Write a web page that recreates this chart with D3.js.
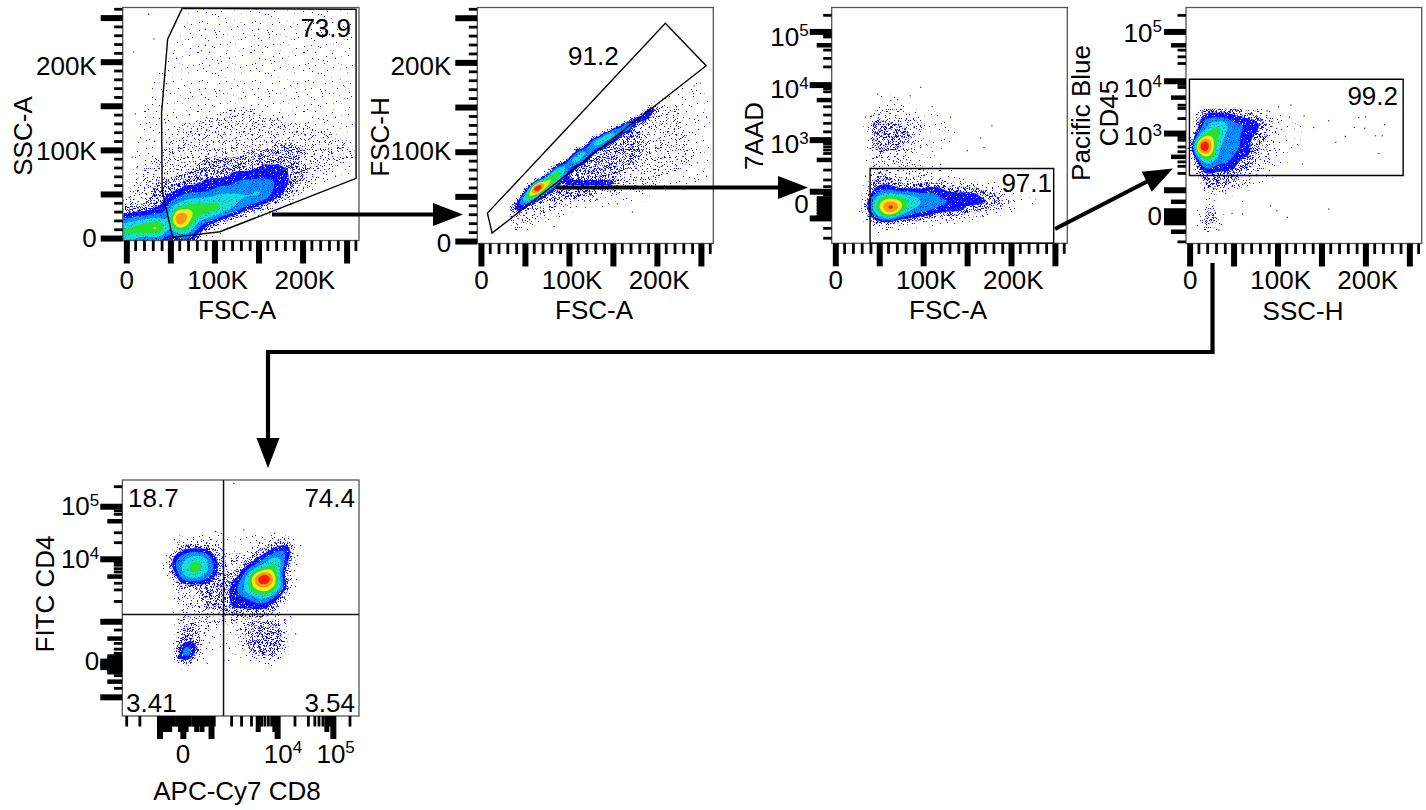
<!DOCTYPE html>
<html>
<head>
<meta charset="utf-8">
<script src="https://cdn.jsdelivr.net/npm/d3@7"></script>
<style>
  body { margin: 0; background: #fff; }
  text { font-family: "Liberation Sans", Arial, sans-serif; fill: #000; }
</style>
</head>
<body>
<div id="chart"></div>
<script>
// Linear axes are in thousands, biexponential axes in display channels (0-1024)
const linMajor = [0, 50, 100, 150, 200, 250];
const linMinor = [10, 20, 30, 40, 60, 70, 80, 90, 110, 120, 130, 140, 160, 170, 180, 190, 210, 220, 230, 240, 260];
const linXLabelVals = [0, 103, 202];
const linLabels = ["0", "100K", "200K"];
const p1YLabelVals = [0, 99, 195];
const p2YLabelVals = [-2, 101, 196];

const p3YMajor = [918, 687, 448, 224, 108];
const p3YMedium = [860, 622, 362, 195, 166, 137, 180, 152, 122];
const p3YMinor = [990, 896, 905, 839, 803, 766, 672, 658, 593, 557, 521, 484, 433, 419, 405, 390, 318, 275, 246, 210, 65, 22];
const p3YLabelVals = [166, 427, 666, 894];
const p3YLabels = ["0", "10^3", "10^4", "10^5"];

const p4YMajor = [918, 704, 477, 231, 116, 104, 128, 92, 140];
const p4YMedium = [860, 633, 376, 181, 51];
const p4YMinor = [990, 839, 810, 781, 690, 677, 600, 586, 542, 460, 448, 419, 398, 354, 335, 304, 7];
const p4YLabelVals = [116, 463, 673, 912];
const p4YLabels = ["0", "10^3", "10^4", "10^5"];

const p5YMajor = [908, 680, 409, 224, 212, 236, 81];
const p5YMedium = [845, 605, 336, 149, 246, 200, 258, 190];
const p5YMinor = [995, 890, 875, 795, 752, 666, 654, 639, 625, 576, 547, 497, 373, 315, 120, 290, 272, 175];
const p5YLabelVals = [236, 677, 908];
const p5YLabels = ["0", "10^4", "10^5"];

const p5XMajor = [163, 264, 386, 672, 913];
const p5XMedium = [178, 192, 252, 276, 322, 588, 205, 345, 660, 885];
const p5XMinor = [19, 76, 156, 168, 173, 205, 218, 225, 235, 242, 286, 294, 305, 311, 335, 355, 364, 372, 380, 398, 473, 516, 559, 603, 617, 632, 646, 747, 805, 833, 851, 868, 898, 985];
const p5XLabelVals = [262, 695, 923];
const p5XLabels = ["0", "10^4", "10^5"];

// Gates, in axis units
const p1Gate = [[62.8, 261], [46.3, 226], [39.4, 142], [40.1, 55], [51.9, 1.4], [105.7, 7.7], [260.2, 68.3], [260.2, 260]];
const p2Gate = [[6.8, 31.8], [209, 244.3], [255.4, 196.8], [12.1, 9.4]];
const p3Gate = [[39, 0], [39, 325], [248, 325], [248, 0]];
const p4Gate = [[-0.8, 295], [-0.8, 713], [242.4, 713], [242.4, 295]];
const p5QuadX = 438;
const p5QuadY = 440;

// Density, top row first. 0 empty, 1-3 speckle, 4 blue ... a red and up
const p1Rows = [
  "000000000111111111111111111111111",
  "000000001111111111111111111111111",
  "000000000111111111111111111111111",
  "000000001111111111111111111111111",
  "000000011111111111111111111111111",
  "000000011111111111111111111111111",
  "000000011111111111111111111111111",
  "000000111111111111111111111111111",
  "000001111111111111111111111111111",
  "000001111111111111111111111111111",
  "000011111111111111111111111111111",
  "000011111111111111111111111111111",
  "000011111111111111111111111111111",
  "000111111111111111111111111111111",
  "000111111111112222211111111111111",
  "001111111112222222222211111111111",
  "001111112222222222222222221111111",
  "001111122222222222222222222222111",
  "001111222222222222222222222222211",
  "001111222222222222222333322222221",
  "001112222222222223333333333222222",
  "011122222223333333333332222222221",
  "011222222233333333344444333322111",
  "012222223333333444444443322211110",
  "122223333334444455555544332111000",
  "122333334444455555565443221100000",
  "122223445555566666665443210000000",
  "222333556677776655544321000000000",
  "333344578877776654321000000000000",
  "4555554cb8766543210000000000",
  "6677884a9654321000000",
  "7888984667432100000000000000000",
  "654444344421000000000000000000000"
];
const p2Rows = [
  "00000000000000000000000000000000001100",
  "00000000000000000000000000000000011110",
  "00000000000000000000000000000001111110",
  "00000000000000000000000000000111111111",
  "00000000000000000000000000001111111111",
  "00000000000000000000000000542222111111",
  "00000000000000000000000005522222111111",
  "00000000000000000000000565222222211111",
  "00000000000000000000056522222222111111",
  "00000000000000000005665222222222111111",
  "00000000000000000577433332222222221111",
  "00000000000000057764333332222222221111",
  "00000000000000466533333333222222221111",
  "00000000000046653333333332222222221111",
  "00000000000466533333333332222222222111",
  "00000000014675333333333322222222221111",
  "00000000466533333333333222222222211111",
  "00000004775333333333322222222221111111",
  "00000058864333333333222222222111111111",
  "00004998634444444444322222221111111110",
  "0004cc863333333333332222222111111111000",
  "00499743333333332222211111111110000000",
  "03775433333332222111111111000000000000",
  "35543222222111111110000000000000000000",
  "34322222211111000000000000000000000000",
  "23222222111000000000000000000000000000",
  "22222111000000000000000000000000000000",
  "22211000000000000000000000000000000000",
  "11100000000000000000000000000000000000"
];
const p3Rows = [
  "0000000111000000000000000",
  "0000001111100000000000000",
  "0000022222211110000000000",
  "0000023222221111000000000",
  "0000033333233111100000000",
  "0000033333322111110000000",
  "0000033333322111100000000",
  "0000023333222111000000000",
  "0000023222211100000000000",
  "0000013222211110000000000",
  "0000013222222111110000000",
  "0000023222222211110000000",
  "0000023332222222111110000",
  "000003444333344433333222100",
  "0000045666665554444443322111",
  "00002679987665555444444332211",
  "0000357ac9665554444333222100",
  "0000146775544433333222100000",
  "0000023332222111100000000000",
  "0000001110000000000000000000"
];
const p4Rows = [
  "0023333333222111000000000",
  "0245555544444332211110000",
  "0345677655544432211111000",
  "0356776555444332211111100",
  "158a876555443332211111000",
  "28cc965555443222111111000",
  "1589865554443322111100000",
  "0356655544333222111000000",
  "0245544443332221111000000",
  "0133333333222111100000000",
  "0023333332222110000000000",
  "0013333222211000000000000",
  "0001111100000000000000000",
  "0001110000000000000000000",
  "0012310000000000000000000",
  "0023421000000000000000000",
  "0023321000000000000000000",
  "0012110000000000000000000"
];
const p5Rows = [
  "000000001111111001111111100",
  "000000002222222111112233310",
  "000000013444432111122345520",
  "000000035566643222234565410",
  "000000045677653222345676310",
  "000000035677653223567875200",
  "00000001466654233469cc84200",
  "00000000333333234568a986310",
  "000000002222333345677864200",
  "000000002222333344456543100",
  "000000002222333344444432000",
  "000000001222222333333321000",
  "000000001222222222222222200",
  "000000002333221112333332100",
  "000000002333111112333333100",
  "000000002333111111333333100",
  "000000003553111112333333100",
  "000000004652000011133332000",
  "000000003431000000011221000",
  "000000000100000000000000000"
];

// Loose events outside the dense regions
const p1Dots = [[7.2, 212], [24, 255], [30, 227], [20.5, 138], [9, 142], [15, 115], [5.3, 93], [11, 81], [20.5, 89]];
const p2Dots = [[171, 33.6], [154, 43], [130, 48], [82, 17.5], [87, 32], [248, 178], [241, 175]];
const p3Dots = [[96, 680], [47, 650], [177, 513], [164, 460], [168, 419], [149, 405], [130, 550], [115, 557], [109, 596], [84, 643], [62, 622], [196, 178], [187, 166], [183, 202]];
const p4Dots = [[220.5, 518], [199, 552], [191, 549], [210, 470], [218, 470], [214, 393], [198, 503], [186, 506], [176, 467], [165, 441], [157, 535], [140, 506], [129, 557], [127, 347], [114, 603], [100, 596], [87, 578], [91, 166], [98, 145], [110, 116], [157, 152], [59, 185], [59, 130], [47, 133], [32, 61]];
const p5Dots = [[480, 1012], [523, 810], [401, 804], [769, 742], [747, 359], [437, 243], [365, 231], [458, 243]];

const levelFill = [null, "url(#speck1)", "url(#speck2)", "url(#speck3)", "url(#grain4)", "url(#grain5)", "url(#grain6)", "#28e030", "#eef01e", "#ff9a10", "#ff1a0a"];

const linX = [-4.7, 263.5];
const linY = [-2.2, 262];
const chan = [0, 1024];

const svg = d3.select("#chart").append("svg")
    .attr("width", 1426)
    .attr("height", 810)
    .style("display", "block");

const defs = svg.append("defs");

// Speckle and grain tiles, so the bands keep the grainy look of single events
function makeTile(id, count, background, colour, otherColour) {
    const tile = defs.append("pattern")
        .attr("id", id)
        .attr("width", 53)
        .attr("height", 59)
        .attr("patternUnits", "userSpaceOnUse");
    if (background) tile.append("rect").attr("width", 53).attr("height", 59).attr("fill", background);
    d3.range(count).forEach(i => {
        // texture only: a low-discrepancy walk, nudged so no lattice shows
        const tx = (i * 0.7548776662 % 1) * 53 + 2.5 * Math.sin(i * i * 1.7);
        const ty = (i * 0.569840291 % 1) * 59 + 2.5 * Math.sin(i * i * 2.3);
        tile.append("rect")
            .attr("x", (Math.floor(tx) + 53) % 53)
            .attr("y", (Math.floor(ty) + 59) % 59)
            .attr("width", 1)
            .attr("height", 1)
            .attr("shape-rendering", "crispEdges")
            .attr("fill", i % 4 === 3 ? otherColour : colour);
    });
}
makeTile("speck1", 75, null, "#1414f0", "#a3a3d6");
makeTile("speck2", 400, null, "#1414f0", "#a3a3d6");
makeTile("speck3", 1500, null, "#0c0cf4", "#8c8cdc");
makeTile("grain4", 500, "#0a0aff", "#3a50ff", "#ffffff");
makeTile("grain5", 500, "#0090ff", "#0a30ff", "#10c0f0");
makeTile("grain6", 500, "#18dcd8", "#0098ff", "#30e050");

function drawTicks(g, axis, scale, values, size, width) {
    g.append("g").call(axis(scale).tickValues(values).tickSize(size).tickFormat(() => "").offset(0))
        .call(s => s.select(".domain").remove())
        .call(s => s.selectAll("line").attr("stroke", "#000").attr("stroke-width", width));
}

function drawLabels(g, axis, scale, values, labels, padding) {
    const a = g.append("g").call(axis(scale).tickValues(values).tickSize(0).tickPadding(padding).offset(0)
            .tickFormat((d, i) => labels[i]))
        .call(s => s.select(".domain").remove())
        .attr("font-family", null)
        .attr("font-size", null);
    a.selectAll("text").style("font-size", "26px").each(function () {
        const parts = d3.select(this).text().split("^");
        if (parts.length === 2) {
            const t = d3.select(this).text(parts[0]);
            t.append("tspan").attr("dy", "-9.5px").style("font-size", "17px").text(parts[1]);
        }
    });
}

// Each grid cell becomes 4x4 and is lightly blurred, only so the contours are not staircases
const fine = 4;
function gridValues(rows, nCols, blur) {
    const data = [];
    rows.forEach(r => {
        for (let k = 0; k < fine; k++) {
            for (let c = 0; c < nCols; c++) {
                const v = c < r.length ? parseInt(r[c], 36) : 0;
                for (let f = 0; f < fine; f++) data.push(v);
            }
        }
    });
    if (d3.blur2) d3.blur2({ data: data, width: nCols * fine, height: rows.length * fine }, blur);
    return data;
}

function drawPanel(p, i) {
    const g = svg.append("g");
    const x = d3.scaleLinear().domain(p.xDomain).range([p.left, p.left + p.w]);
    const y = d3.scaleLinear().domain(p.yDomain).range([p.top + p.h, p.top]);

    const clipId = "clip" + i;
    defs.append("clipPath").attr("id", clipId).append("rect")
        .attr("x", p.left).attr("y", p.top).attr("width", p.w).attr("height", p.h);
    const plot = g.append("g").attr("clip-path", `url(#${clipId})`);

    // Density bands from the grid, mapped through the panel scales
    const nRows = p.rows.length;
    const nCols = d3.max(p.rows, r => r.length);
    const values = gridValues(p.rows, nCols, p.blur);
    const project = d3.geoTransform({
        point(cx, cy) {
            this.stream.point(x(p.x0 + cx / fine * p.xStep), y(p.y0 + (nRows - cy / fine) * p.yStep));
        }
    });
    const path = d3.geoPath(project);
    const contours = d3.contours().size([nCols * fine, nRows * fine]).thresholds(d3.range(1, 11).map(t => t - 0.5))(values);
    plot.selectAll("path").data(contours).enter().append("path")
        .attr("d", path)
        .attr("fill", (d, k) => levelFill[k + 1]);

    plot.selectAll("rect.dot").data(p.dots).enter().append("rect")
        .attr("class", "dot")
        .attr("x", d => x(d[0]))
        .attr("y", d => y(d[1]))
        .attr("width", 1.2)
        .attr("height", 1.2)
        .attr("fill", "#1414f0");

    g.append("rect")
        .attr("x", p.left).attr("y", p.top).attr("width", p.w).attr("height", p.h)
        .attr("fill", "none").attr("stroke", "#555").attr("stroke-width", 1.3);

    // Gate outline
    if (p.gate) {
        g.append("path")
            .attr("d", d3.line().x(d => x(d[0])).y(d => y(d[1]))(p.gate) + "Z")
            .attr("fill", "none").attr("stroke", "#000").attr("stroke-width", 1.4);
    }
    if (p.quad) {
        g.append("line").attr("x1", x(p.quad[0])).attr("x2", x(p.quad[0]))
            .attr("y1", p.top).attr("y2", p.top + p.h).attr("stroke", "#111").attr("stroke-width", 1.5);
        g.append("line").attr("x1", p.left).attr("x2", p.left + p.w)
            .attr("y1", y(p.quad[1])).attr("y2", y(p.quad[1])).attr("stroke", "#111").attr("stroke-width", 1.5);
    }

    const bottom = g.append("g").attr("transform", `translate(0,${p.top + p.h})`);
    const left = g.append("g").attr("transform", `translate(${p.left},0)`);
    drawTicks(bottom, d3.axisBottom, x, p.xTicks[0], 23, 6);
    if (p.xTicks[2]) drawTicks(bottom, d3.axisBottom, x, p.xTicks[2], 16, 5);
    drawTicks(bottom, d3.axisBottom, x, p.xTicks[1], 10.5, 2.8);
    drawTicks(left, d3.axisLeft, y, p.yTicks[0], 22, 6);
    if (p.yTicks[2]) drawTicks(left, d3.axisLeft, y, p.yTicks[2], 15, 4.5);
    drawTicks(left, d3.axisLeft, y, p.yTicks[1], 8.5, 2.8);

    drawLabels(bottom, d3.axisBottom, x, p.xLabelVals, p.xLabels, p.xPad);
    drawLabels(left, d3.axisLeft, y, p.yLabelVals, p.yLabels, p.yPad);

    // Axis titles
    g.append("text").attr("x", p.xTitlePos[0]).attr("y", p.xTitlePos[1])
        .attr("text-anchor", "middle").style("font-size", "26px").text(p.xTitle);
    p.yTitle.forEach((t, k) => {
        g.append("text")
            .attr("transform", `translate(${p.yTitlePos[k]},${p.yTitleMid}) rotate(-90)`)
            .attr("text-anchor", "middle").style("font-size", "26px").text(t);
    });

    // Gate frequencies
    p.stats.forEach(s => {
        g.append("text").attr("x", s.x).attr("y", s.y)
            .attr("text-anchor", s.anchor).style("font-size", "26px").text(s.text);
    });
}

const panels = [
    {
        left: 122.7, top: 7.5, w: 236.3, h: 233, xDomain: linX, yDomain: linY, blur: 2.2,
        rows: p1Rows, x0: -4, y0: -4, xStep: 8, yStep: 8, dots: p1Dots, gate: p1Gate,
        xTicks: [linMajor, linMinor], yTicks: [linMajor, linMinor],
        xLabelVals: linXLabelVals, xLabels: linLabels, yLabelVals: p1YLabelVals, yLabels: linLabels,
        xPad: 30, yPad: 26, xTitle: "FSC-A", xTitlePos: [237, 319],
        yTitle: ["SSC-A"], yTitlePos: [31.7], yTitleMid: 136,
        stats: [{ text: "73.9", x: 351, y: 37, anchor: "end" }]
    },
    {
        left: 477.3, top: 7.5, w: 236, h: 236, xDomain: linX, yDomain: linY, blur: 1.4,
        rows: p2Rows, x0: 33, y0: 9, xStep: 6, yStep: 6, dots: p2Dots, gate: p2Gate,
        xTicks: [linMajor, linMinor], yTicks: [linMajor, linMinor],
        xLabelVals: linXLabelVals, xLabels: linLabels, yLabelVals: p2YLabelVals, yLabels: linLabels,
        xPad: 27, yPad: 26, xTitle: "FSC-A", xTitlePos: [594, 319],
        yTitle: ["FSC-H"], yTitlePos: [389], yTitleMid: 137,
        stats: [{ text: "91.2", x: 568, y: 65, anchor: "start" }]
    },
    {
        left: 831.7, top: 7.5, w: 235.6, h: 235.8, xDomain: linX, yDomain: chan, blur: 2,
        rows: p3Rows, x0: -4, y0: 45, xStep: 8, yStep: 30, dots: p3Dots, gate: p3Gate,
        xTicks: [linMajor, linMinor], yTicks: [p3YMajor, p3YMinor, p3YMedium],
        xLabelVals: linXLabelVals, xLabels: linLabels, yLabelVals: p3YLabelVals, yLabels: p3YLabels,
        xPad: 27, yPad: 23, xTitle: "FSC-A", xTitlePos: [948, 319],
        yTitle: ["7AAD"], yTitlePos: [763], yTitleMid: 136,
        stats: [{ text: "97.1", x: 1052, y: 192, anchor: "end" }]
    },
    {
        left: 1186, top: 7.5, w: 235.7, h: 236, xDomain: linX, yDomain: chan, blur: 2,
        rows: p4Rows, x0: -3, y0: 45, xStep: 6, yStep: 30, dots: p4Dots, gate: p4Gate,
        xTicks: [linMajor, linMinor], yTicks: [p4YMajor, p4YMinor, p4YMedium],
        xLabelVals: linXLabelVals, xLabels: linLabels, yLabelVals: p4YLabelVals, yLabels: p4YLabels,
        xPad: 27, yPad: 24, xTitle: "SSC-H", xTitlePos: [1303, 320],
        yTitle: ["Pacific Blue", "CD45"], yTitlePos: [1090, 1118], yTitleMid: 113,
        stats: [{ text: "99.2", x: 1398, y: 105, anchor: "end" }]
    },
    {
        left: 122.3, top: 480, w: 236.7, h: 236, xDomain: chan, yDomain: chan, blur: 2,
        rows: p5Rows, x0: -15, y0: 195, xStep: 30, yStep: 30, dots: p5Dots, quad: [p5QuadX, p5QuadY],
        xTicks: [p5XMajor, p5XMinor, p5XMedium], yTicks: [p5YMajor, p5YMinor, p5YMedium],
        xLabelVals: p5XLabelVals, xLabels: p5XLabels, yLabelVals: p5YLabelVals, yLabels: p5YLabels,
        xPad: 28.5, yPad: 23, xTitle: "APC-Cy7 CD8", xTitlePos: [237, 800],
        yTitle: ["FITC CD4"], yTitlePos: [54], yTitleMid: 594,
        stats: [
            { text: "18.7", x: 128, y: 507, anchor: "start" },
            { text: "74.4", x: 355, y: 507, anchor: "end" },
            { text: "3.41", x: 126, y: 712, anchor: "start" },
            { text: "3.54", x: 355, y: 712, anchor: "end" }
        ]
    }
];
panels.forEach(drawPanel);

// Gating hierarchy arrows
const arrows = svg.append("g");
function arrowLine(pts) {
    arrows.append("path")
        .attr("d", d3.line()(pts))
        .attr("fill", "none").attr("stroke", "#000").attr("stroke-width", 4.2);
}
function arrowHead(pts) {
    arrows.append("path").attr("d", d3.line()(pts) + "Z").attr("fill", "#000");
}
arrowLine([[272, 214.5], [440, 214.5]]);
arrowHead([[463, 214.5], [433, 203], [433, 226]]);
arrowLine([[556, 187.5], [785, 187.5]]);
arrowHead([[808, 187.5], [778, 176], [778, 199]]);
arrowLine([[1055, 229], [1150, 180]]);
arrowHead([[1173, 168.5], [1141.7, 171.7], [1151.7, 191.7]]);
arrowLine([[1212.5, 263], [1212.5, 352], [268, 352], [268, 445]]);
arrowHead([[268, 468], [256.5, 438], [279.5, 438]]);
</script>
</body>
</html>
